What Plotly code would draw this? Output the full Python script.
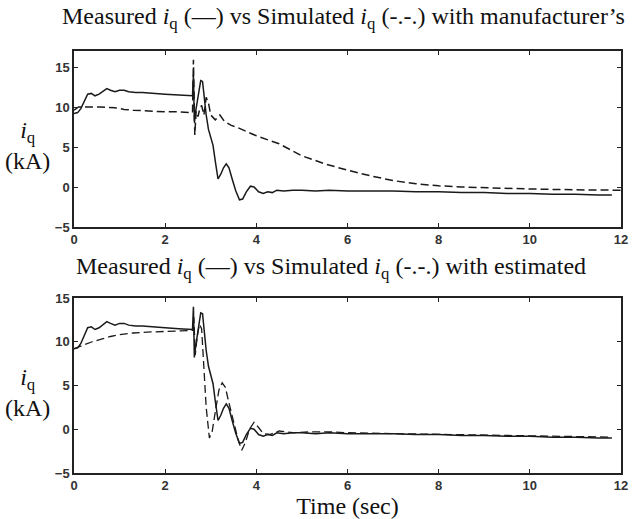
import plotly.graph_objects as go
from plotly.subplots import make_subplots

# Measured i_q (kA)
t_meas = [0, 0.08, 0.15, 0.22, 0.3, 0.38, 0.46, 0.55, 0.65, 0.72, 0.8, 0.9, 1.0, 1.1, 1.2, 1.35, 1.5, 1.7,
          2.0, 2.3, 2.6, 2.62, 2.64, 2.67, 2.72, 2.78, 2.82, 2.86, 2.9, 2.95, 3.0, 3.05, 3.1, 3.16, 3.22,
          3.28, 3.34, 3.4, 3.47, 3.55, 3.63, 3.7, 3.78, 3.87, 3.95, 4.05, 4.15, 4.25, 4.35, 4.45, 4.6, 4.8,
          5.0, 5.3, 5.6, 6.0, 6.5, 7.0, 7.5, 8.0, 8.5, 9.0, 9.5, 10.0, 10.5, 11.0, 11.5, 11.8]
iq_meas = [9.2, 9.3, 9.8, 10.6, 11.6, 11.7, 11.4, 11.6, 12.0, 12.3, 12.1, 11.9, 12.1, 12.1, 11.9, 11.8, 11.8, 11.7,
           11.6, 11.5, 11.4, 14.0, 8.2, 9.5, 11.5, 13.3, 13.2, 11.0, 9.0, 7.2, 6.3, 5.2, 3.2, 1.0, 1.6,
           2.4, 2.9, 2.4, 1.0, -0.5, -1.6, -1.5, -0.6, 0.1, 0.0, -0.6, -0.8, -0.6, -0.7, -0.4, -0.5, -0.4,
           -0.4, -0.5, -0.4, -0.5, -0.5, -0.5, -0.6, -0.6, -0.7, -0.7, -0.8, -0.8, -0.9, -0.9, -1.0, -1.0]

# Simulated i_q with manufacturer's parameters
t_manu = [0, 0.1, 0.3, 0.6, 0.9, 1.1, 1.3, 1.6, 2.0, 2.3, 2.6, 2.62, 2.65, 2.68, 2.72, 2.76, 2.8, 2.85, 2.9,
          2.95, 3.0, 3.1, 3.2, 3.3, 3.45, 3.6, 3.8, 4.0, 4.5, 5.0, 5.5, 6.0, 6.5, 7.0, 7.5, 8.0, 8.5, 9.0,
          9.5, 10.0, 11.0, 12.0]
iq_manu = [9.6, 10.0, 10.0, 10.0, 9.9, 9.7, 9.6, 9.5, 9.4, 9.4, 9.3, 15.9, 6.5, 9.5, 8.8, 9.8, 10.2, 9.0, 11.2,
           10.5, 9.0, 8.4, 9.0, 8.2, 7.7, 7.4, 6.9, 6.4, 5.4, 3.9, 2.9, 2.1, 1.4, 0.8, 0.4, 0.15, 0.0, -0.1,
           -0.2, -0.25, -0.35, -0.4]

# Simulated i_q with estimated parameters
t_est = [0, 0.1, 0.25, 0.4, 0.6, 0.8, 1.0, 1.3, 1.6, 2.0, 2.3, 2.6, 2.63, 2.66, 2.7, 2.75, 2.8, 2.85, 2.9, 2.97,
         3.03, 3.1, 3.18, 3.25, 3.32, 3.4, 3.5, 3.6, 3.68, 3.76, 3.85, 3.95, 4.05, 4.15, 4.3, 4.5, 4.8, 5.2,
         5.6, 6.0, 7.0, 8.0, 9.0, 10.0, 11.0, 11.8]
iq_est = [9.2, 9.4, 9.7, 10.0, 10.3, 10.6, 10.8, 11.0, 11.1, 11.2, 11.3, 11.3, 12.8, 8.5, 10.5, 12.0, 11.5, 7.5,
          2.5, -1.0, -0.3, 2.0, 4.5, 5.3, 4.8, 3.0, 0.8, -1.2, -2.4, -1.5, 0.0, 0.8, 0.2, -0.5, -0.6, -0.2,
          -0.4, -0.3, -0.3, -0.4, -0.5, -0.6, -0.7, -0.8, -0.9, -0.9]

x_ticks = [0, 2, 4, 6, 8, 10, 12]
y_ticks = [-5, 0, 5, 10, 15]
title_top = "Measured <i>i</i><sub>q</sub> (\u2014) vs Simulated <i>i</i><sub>q</sub> (-.-.) with manufacturer\u2019s"
title_bot = "Measured <i>i</i><sub>q</sub> (\u2014) vs Simulated <i>i</i><sub>q</sub> (-.-.) with estimated"
ylabel = "<i>i</i><sub>q</sub><br>(kA)"
xlabel = "Time (sec)"

W, H = 637, 519
L, R, T, B = 74, 9, 51, 46
ph = H - T - B

def fy(py):
    return (H - B - py) / ph

def fx(px):
    return (px - L) / (W - L - R)

fig = make_subplots(rows=2, cols=1, shared_xaxes=False)
line_col = "#1a1a1a"
fig.add_trace(go.Scatter(x=t_meas, y=iq_meas, mode="lines", line=dict(color=line_col, width=1.5)), row=1, col=1)
fig.add_trace(go.Scatter(x=t_manu, y=iq_manu, mode="lines", line=dict(color=line_col, width=1.5, dash="8px,4px")), row=1, col=1)
fig.add_trace(go.Scatter(x=t_meas, y=iq_meas, mode="lines", line=dict(color=line_col, width=1.5)), row=2, col=1)
fig.add_trace(go.Scatter(x=t_est, y=iq_est, mode="lines", line=dict(color=line_col, width=1.3, dash="8px,4px")), row=2, col=1)

axis_common = dict(showline=True, mirror="ticks", linecolor="#222", linewidth=1.5, ticks="inside",
                   ticklen=4, tickcolor="#222", showgrid=False, zeroline=False,
                   tickfont=dict(family="Liberation Sans", size=13, color="#333", weight="bold"))

fig.update_xaxes(range=[0, 12], tickvals=x_ticks, **axis_common)
fig.update_yaxes(tickvals=y_ticks, **axis_common)
fig.update_yaxes(range=[-5, 17], domain=[fy(227), 1.0], row=1, col=1)
fig.update_yaxes(range=[-5, 15], domain=[0, fy(298)], row=2, col=1)
fig.update_xaxes(title=dict(text=xlabel, font=dict(family="Liberation Serif", size=24, color="#111"), standoff=0), row=2, col=1)

serif = dict(family="Liberation Serif", size=24, color="#111")
anns = [
    dict(text=title_top, x=fx(60), y=fy(18), xanchor="left", yanchor="middle"),
    dict(text=title_bot, x=fx(74), y=fy(268), xanchor="left", yanchor="middle"),
    dict(text=ylabel, x=fx(27), y=fy(145), xanchor="center", yanchor="middle"),
    dict(text=ylabel, x=fx(27), y=fy(392), xanchor="center", yanchor="middle"),
]
for a in anns:
    fig.add_annotation(xref="paper", yref="paper", showarrow=False, font=serif, align="center", **a)

fig.update_layout(width=W, height=H, margin=dict(l=L, r=R, t=T, b=B), showlegend=False,
                  plot_bgcolor="white", paper_bgcolor="white")
fig.write_html("out.html")
